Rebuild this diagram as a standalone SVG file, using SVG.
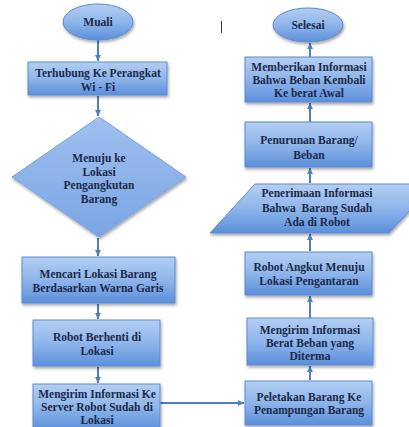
<svg xmlns="http://www.w3.org/2000/svg" width="409" height="427" viewBox="0 0 409 427">
<defs>
<linearGradient id="g" x1="0" y1="0" x2="0" y2="1">
<stop offset="0" stop-color="#b3cef3"/>
<stop offset="0.5" stop-color="#8fb5ea"/>
<stop offset="1" stop-color="#5b8fdb"/>
</linearGradient>
<linearGradient id="gd" x1="0" y1="0" x2="0" y2="1">
<stop offset="0" stop-color="#9fc0f0"/>
<stop offset="1" stop-color="#7aa5e4"/>
</linearGradient>
<filter id="sh" x="-10%" y="-10%" width="125%" height="130%">
<feDropShadow dx="1" dy="2" stdDeviation="1.5" flood-color="#000" flood-opacity="0.35"/>
</filter>
<marker id="ah" markerWidth="8" markerHeight="8" refX="6" refY="4" orient="auto" markerUnits="userSpaceOnUse">
<path d="M0,1 L6,4 L0,7 Z" fill="#4f7fc0"/>
</marker>
</defs>
<style>
.s{fill:url(#g);stroke:#5c8bd0;stroke-width:1;filter:url(#sh)}
.d{fill:url(#gd);stroke:#7aa2dc;stroke-width:1;filter:url(#sh)}
.t{font-family:"Liberation Serif",serif;font-size:11.5px;font-weight:bold;fill:#1b2a48;text-anchor:middle}
.c{stroke:#4f7fc0;stroke-width:2;fill:none;marker-end:url(#ah)}
</style>
<rect width="409" height="427" fill="#ffffff"/>
<line x1="221.5" y1="21" x2="221.5" y2="33" stroke="#333" stroke-width="1"/>
<g id="connectors">
<line class="c" x1="98" y1="40" x2="98" y2="61"/>
<line class="c" x1="98" y1="96" x2="98" y2="116"/>
<line class="c" x1="98" y1="238" x2="98" y2="256"/>
<line class="c" x1="98" y1="304" x2="98" y2="319"/>
<line class="c" x1="98" y1="367" x2="98" y2="383"/>
<line class="c" x1="160" y1="403" x2="244" y2="403"/>
<line class="c" x1="310" y1="380" x2="310" y2="366"/>
<line class="c" x1="310" y1="318" x2="310" y2="296"/>
<line class="c" x1="310" y1="251" x2="310" y2="234"/>
<line class="c" x1="310" y1="183" x2="310" y2="168"/>
<line class="c" x1="310" y1="122" x2="310" y2="103"/>
<line class="c" x1="310" y1="57" x2="310" y2="43"/>
</g>
<g id="start">
<ellipse class="s" cx="98" cy="22" rx="35" ry="18"/>
<text class="t" x="98" y="26">Muali</text>
</g>
<g id="n1">
<rect class="s" x="28" y="62" width="139" height="33"/>
<text class="t" x="98" y="77">Terhubung Ke Perangkat</text>
<text class="t" x="98" y="91">Wi - Fi</text>
</g>
<g id="n2">
<polygon class="d" points="99,117 186,177 99,237 12,177"/>
<text class="t" x="99" y="162">Menuju ke</text>
<text class="t" x="99" y="176">Lokasi</text>
<text class="t" x="99" y="189">Pengangkutan</text>
<text class="t" x="99" y="203">Barang</text>
</g>
<g id="n3">
<rect class="s" x="22" y="257" width="153" height="46"/>
<text class="t" x="98" y="278">Mencari Lokasi Barang</text>
<text class="t" x="98" y="292">Berdasarkan Warna Garis</text>
</g>
<g id="n4">
<rect class="s" x="33" y="320" width="127" height="46"/>
<text class="t" x="97" y="341">Robot Berhenti di</text>
<text class="t" x="97" y="355">Lokasi</text>
</g>
<g id="n5">
<rect class="s" x="33" y="384" width="127" height="46"/>
<text class="t" x="97" y="398">Mengirim Informasi Ke</text>
<text class="t" x="97" y="411">Server Robot Sudah di</text>
<text class="t" x="97" y="424">Lokasi</text>
</g>
<g id="end">
<ellipse class="s" cx="308" cy="25" rx="35" ry="17"/>
<text class="t" x="308" y="29">Selesai</text>
</g>
<g id="r1">
<rect class="s" x="245" y="57" width="127" height="45"/>
<text class="t" x="309" y="71">Memberikan Informasi</text>
<text class="t" x="309" y="84">Bahwa Beban Kembali</text>
<text class="t" x="309" y="97">Ke berat Awal</text>
</g>
<g id="r2">
<rect class="s" x="245" y="122" width="127" height="45"/>
<text class="t" x="309" y="144">Penurunan Barang/</text>
<text class="t" x="309" y="159">Beban</text>
</g>
<g id="r3">
<polygon class="s" points="255,184 434,184 389,233 210,233"/>
<text class="t" x="317" y="197">Penerimaan Informasi</text>
<text class="t" x="317" y="212" xml:space="preserve">Bahwa  Barang Sudah</text>
<text class="t" x="317" y="226">Ada di Robot</text>
</g>
<g id="r4">
<rect class="s" x="245" y="252" width="127" height="43"/>
<text class="t" x="309" y="271">Robot Angkut Menuju</text>
<text class="t" x="309" y="285">Lokasi Pengantaran</text>
</g>
<g id="r5">
<rect class="s" x="247" y="318" width="126" height="47"/>
<text class="t" x="310" y="334">Mengirim Informasi</text>
<text class="t" x="310" y="347">Berat Beban yang</text>
<text class="t" x="310" y="360">Diterma</text>
</g>
<g id="r6">
<rect class="s" x="245" y="381" width="127" height="44"/>
<text class="t" x="309" y="401">Peletakan Barang Ke</text>
<text class="t" x="309" y="414">Penampungan Barang</text>
</g>
</svg>
